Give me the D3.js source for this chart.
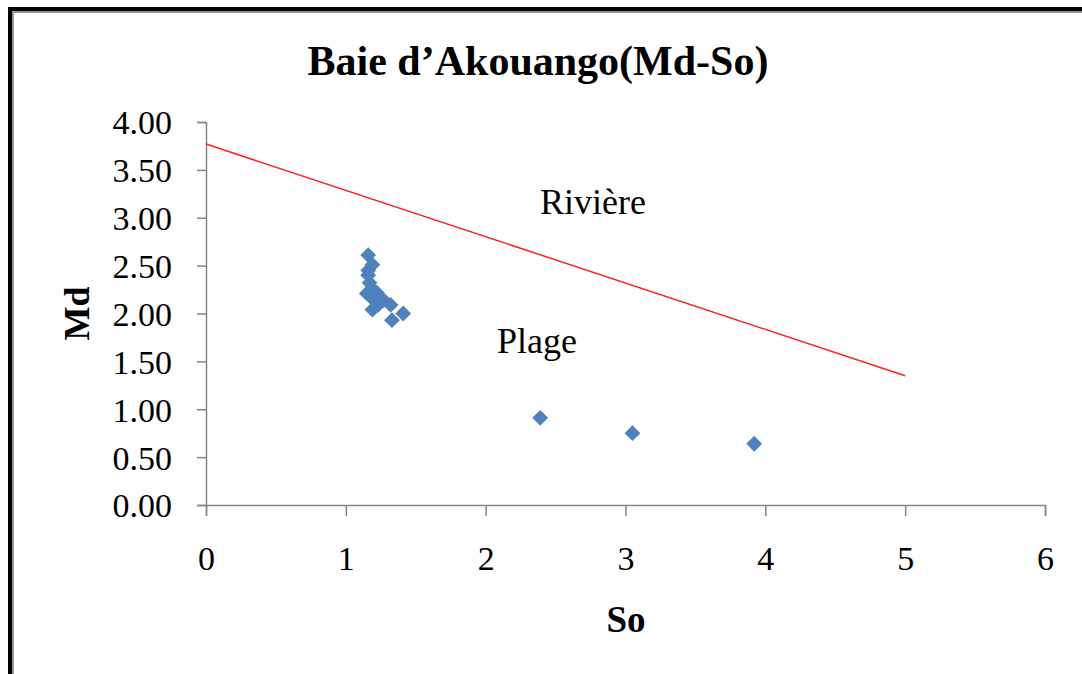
<!DOCTYPE html>
<html>
<head>
<meta charset="utf-8">
<script src="https://cdn.jsdelivr.net/npm/d3@7"></script>
<style>
  body { margin: 0; background: #fff; }
  svg { display: block; }
</style>
</head>
<body>
<script>
// Données
let soValues = [1.16, 1.19, 1.16, 1.17, 1.16, 1.15, 1.19, 1.22, 1.23, 1.20, 1.23, 1.27, 1.32, 1.33, 1.41, 1.19, 2.39, 3.05, 3.92];
let mdValues = [2.61, 2.51, 2.45, 2.32, 2.40, 2.21, 2.25, 2.22, 2.18, 2.14, 2.09, 2.14, 2.09, 1.93, 2.00, 2.04, 0.91, 0.75, 0.64];
let limitSo = [0, 5];
let limitMd = [3.77, 1.35];
let xTicks = [0, 1, 2, 3, 4, 5, 6];
let yTicks = [0, 0.5, 1, 1.5, 2, 2.5, 3, 3.5, 4];

let width = 1082, height = 674;
let margin = {top: 122, right: 37, bottom: 169, left: 206};
let innerW = width - margin.left - margin.right,
    innerH = height - margin.top - margin.bottom;

let svg = d3.select("body").append("svg")
    .attr("width", width)
    .attr("height", height)
    .style("font-family", "'Liberation Serif', 'Times New Roman', serif");

// Cadre
svg.append("line").attr("x1", 8).attr("x2", width).attr("y1", 9).attr("y2", 9)
    .attr("stroke", "#000").attr("stroke-width", 4);
svg.append("line").attr("x1", 10).attr("x2", 10).attr("y1", 7).attr("y2", height)
    .attr("stroke", "#000").attr("stroke-width", 4);
svg.append("line").attr("x1", 12).attr("x2", width).attr("y1", 12).attr("y2", 12)
    .attr("stroke", "#999").attr("stroke-width", 2);
svg.append("line").attr("x1", 13).attr("x2", 13).attr("y1", 11).attr("y2", height)
    .attr("stroke", "#999").attr("stroke-width", 2);

let g = svg.append("g")
    .attr("transform", "translate(" + margin.left + "," + margin.top + ")");

// Échelles
let x = d3.scaleLinear().domain([0, 6]).range([0, innerW]);
let y = d3.scaleLinear().domain([0, 4]).range([innerH, 0]);

// Axe X
let xAxis = g.append("g")
    .attr("transform", "translate(0," + innerH + ")")
    .call(d3.axisBottom(x).tickValues(xTicks).tickFormat(d3.format("d")).tickSize(11).tickPadding(30));
// Axe Y
let yAxis = g.append("g")
    .call(d3.axisLeft(y).tickValues(yTicks).tickFormat(d3.format(".2f")).tickSize(9).tickPadding(25));

[xAxis, yAxis].forEach(a => {
    a.select(".domain").attr("stroke", "#868686").attr("stroke-width", 1.5);
    a.selectAll(".tick line").attr("stroke", "#868686").attr("stroke-width", 1.5);
    a.selectAll("text").attr("fill", "#000").style("font-size", "34px")
        .style("font-family", "'Liberation Serif', serif");
});
yAxis.selectAll("text").attr("dy", "0.35em");

// Ligne de séparation
g.append("line")
    .attr("x1", x(limitSo[0])).attr("y1", y(limitMd[0]))
    .attr("x2", x(limitSo[1])).attr("y2", y(limitMd[1]))
    .attr("stroke", "#ff2020").attr("stroke-width", 1.5);

// Points
let points = soValues.map((d, i) => ({so: d, md: mdValues[i]}));
g.append("g")
    .selectAll("path")
    .data(points)
    .join("path")
    .attr("d", d3.symbol().type(d3.symbolSquare).size(125))
    .attr("transform", d => "translate(" + x(d.so) + "," + y(d.md) + ") rotate(45)")
    .attr("fill", "#4f81bd");

// Textes
svg.append("text")
    .attr("x", 538).attr("y", 75)
    .attr("text-anchor", "middle")
    .style("font-size", "42px").style("font-weight", "bold")
    .text("Baie d\u2019Akouango(Md-So)");

svg.append("text")
    .attr("x", 626).attr("y", 632)
    .attr("text-anchor", "middle")
    .style("font-size", "37px").style("font-weight", "bold")
    .text("So");

svg.append("text")
    .attr("transform", "translate(89," + (margin.top + innerH / 2) + ") rotate(-90)")
    .attr("text-anchor", "middle")
    .style("font-size", "36px").style("font-weight", "bold")
    .text("Md");

svg.append("text")
    .attr("x", 593).attr("y", 214)
    .attr("text-anchor", "middle")
    .style("font-size", "36px")
    .text("Rivière");

svg.append("text")
    .attr("x", 537).attr("y", 353)
    .attr("text-anchor", "middle")
    .style("font-size", "36px")
    .text("Plage");
</script>
</body>
</html>
